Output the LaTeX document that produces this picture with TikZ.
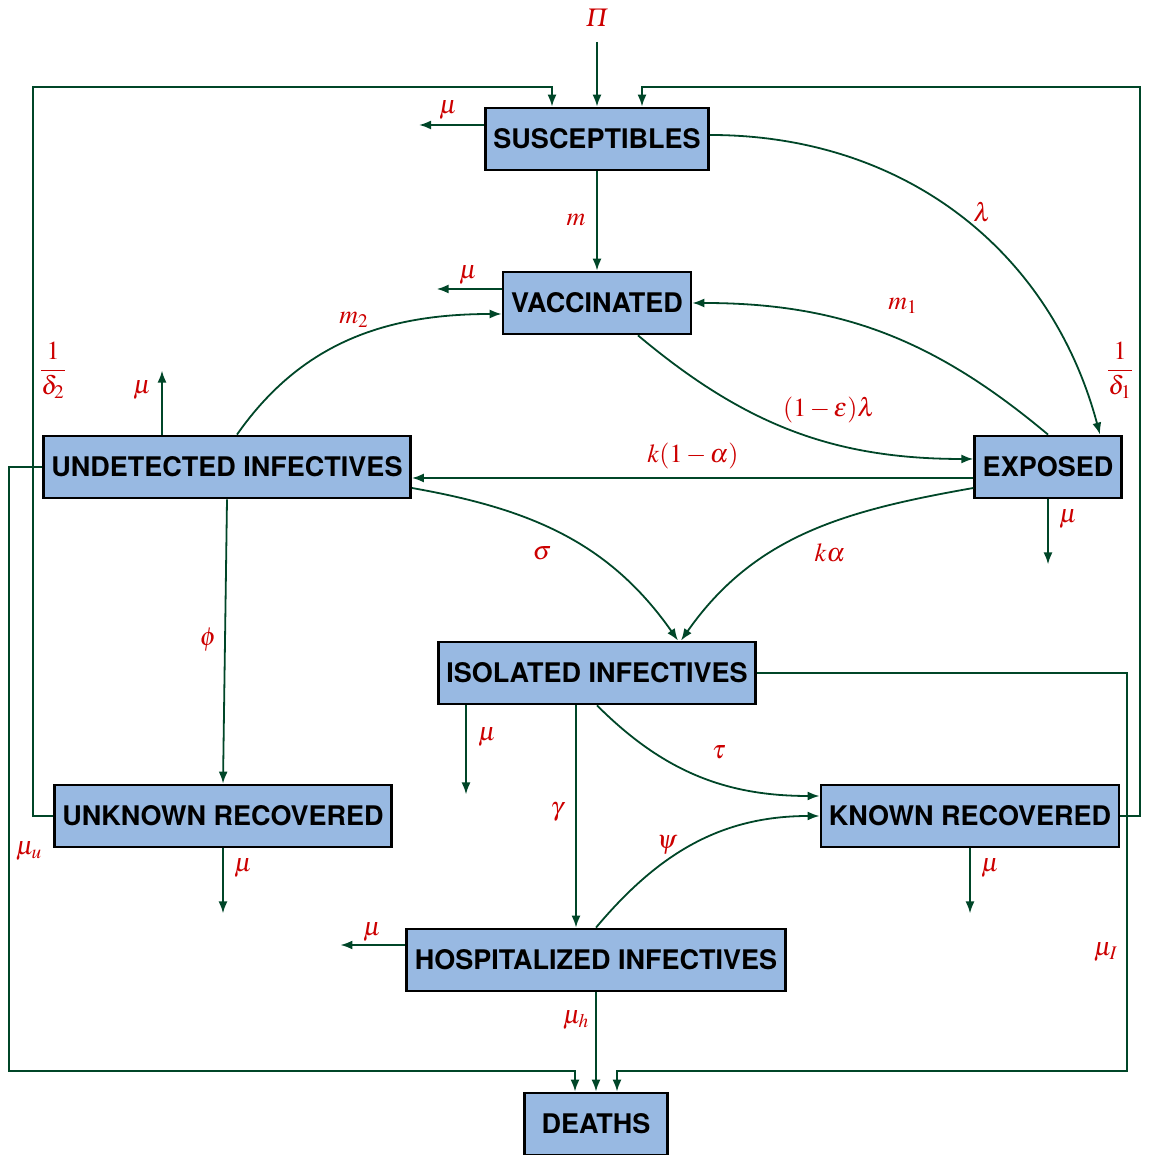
\documentclass[tikz,border=0pt]{standalone}
\usepackage{amsmath}
\usepackage{mathptmx}
\usepackage{fontspec}
\setsansfont{TeX Gyre Heros}
\usetikzlibrary{arrows.meta, calc, positioning}

\definecolor{boxblue}{RGB}{152,185,226}
\definecolor{flowgreen}{RGB}{0,70,40}
\definecolor{labred}{RGB}{204,0,0}

\tikzset{
  comp/.style={draw=black, line width=1.4pt, fill=boxblue,
    font=\sffamily\bfseries\fontsize{13.5}{16}\selectfont,
    minimum height=31pt, inner xsep=4pt},
  flow/.style={draw=flowgreen, line width=0.9pt, -{Latex[length=6pt,width=4.5pt]}},
  lab/.style={text=labred, font=\fontsize{13}{15}\selectfont, inner sep=1pt},
}

\begin{document}
\begin{tikzpicture}[x=0.5pt, y=0.5pt]
    \useasboundingbox (0,0) rectangle (1152,1155);

    % Các ngăn
    \node[comp] (susc) at (597,1016) {SUSCEPTIBLES};
    \node[comp] (vacc) at (597,852) {VACCINATED};
    \node[comp] (und) at (227,688) {UNDETECTED INFECTIVES};
    \node[comp] (expo) at (1048,688) {EXPOSED};
    \node[comp] (iso) at (597,482) {ISOLATED INFECTIVES};
    \node[comp] (unk) at (223,339) {UNKNOWN RECOVERED};
    \node[comp] (kno) at (970,339) {KNOWN RECOVERED};
    \node[comp] (hos) at (596,195) {HOSPITALIZED INFECTIVES};
    \node[comp, minimum width=71.5pt] (dea) at (596,31) {DEATHS};

    % Dòng vào
    \coordinate (pin) at (597,1113);
    \node[lab] (lpi) at (597,1137) {$\varPi$};
    \draw[flow] (pin) -- (susc.north);

    % Các mũi tên chính
    \draw[flow] (susc.south) -- (vacc.north);
    \draw[flow] ($(susc.east)+(0,4)$) to[out=0, in=105] ($(expo.north)+(52,0)$);
    \draw[flow] (expo.north) to[out=140, in=0] (vacc.east);
    \draw[flow] ($(vacc.south)+(41,0)$) to[out=-40, in=180] ($(expo.west)+(0,8)$);
    \draw[flow] ($(und.north)+(10,0)$) to[out=55, in=180] ($(vacc.west)+(0,-11)$);
    \draw[flow] ($(expo.west)+(0,-11)$) -- ($(und.east)+(0,-11)$);
    \draw[flow] ($(und.east)+(0,-21)$) to[out=-10, in=125] ($(iso.north)+(81,0)$);
    \draw[flow] ($(expo.west)+(0,-21)$) to[out=190, in=55] ($(iso.north)+(84,0)$);
    \draw[flow] (und.south) -- (unk.north);
    \draw[flow] ($(iso.south)+(-21,0)$) -- ($(hos.north)+(-20,0)$);
    \draw[flow] (iso.south) to[out=-45, in=180] ($(kno.west)+(0,20)$);
    \draw[flow] (hos.north) to[out=50, in=180] (kno.west);
    \draw[flow] (hos.south) -- (dea.north);

    % Hồi phục quay lại và tử vong
    \draw[flow] (unk.west) -| (33,1068) -| ($(susc.north)+(-45,0)$);
    \draw[flow] (kno.east) -| (1140,1068) -| ($(susc.north)+(45,0)$);
    \draw[flow] (und.west) -| (9,84) -| ($(dea.north)+(-21,0)$);
    \draw[flow] (iso.east) -| (1127,84) -| ($(dea.north)+(21,0)$);

    % Tử vong tự nhiên
    \draw[flow] ($(susc.west)+(0,14)$) -- ++(-65,0);
    \draw[flow] ($(vacc.west)+(0,14)$) -- ++(-65,0);
    \draw[flow] ($(hos.west)+(0,15)$) -- ++(-65,0);
    \draw[flow] ($(und.north)+(-65,0)$) -- ++(0,64);
    \draw[flow] (expo.south) -- ++(0,-65);
    \draw[flow] ($(iso.south)+(-131,0)$) -- ++(0,-89);
    \draw[flow] (unk.south) -- ++(0,-65);
    \draw[flow] (kno.south) -- ++(0,-65);

    % Nhãn
    \node[lab] (lmus) at (448,1045) {$\mu$};
    \node[lab] (lm) at (576,935) {$m$};
    \node[lab] (llam) at (982,943) {$\lambda$};
    \node[lab] (lmuv) at (468,880) {$\mu$};
    \node[lab] (lmone) at (903,849) {$m_1$};
    \node[lab] (lmtwo) at (354,835) {$m_2$};
    \node[lab] (ldtwo) at (53,785) {$\dfrac{1}{\delta_2}$};
    \node[lab] (ldone) at (1120,785) {$\dfrac{1}{\delta_1}$};
    \node[lab] (lmuu) at (142,765) {$\mu$};
    \node[lab] (leps) at (829,745) {$(1-\varepsilon)\lambda$};
    \node[lab] (lalp) at (693,699) {$k(1-\alpha)$};
    \node[lab] (lmue) at (1068,636) {$\mu$};
    \node[lab] (lsig) at (542,602) {$\sigma$};
    \node[lab] (lka) at (830,602) {$k\alpha$};
    \node[lab] (lphi) at (208,515) {$\phi$};
    \node[lab] (lmui) at (487,418) {$\mu$};
    \node[lab] (ltau) at (719,403) {$\tau$};
    \node[lab] (lgam) at (557,343) {$\gamma$};
    \node[lab] (lpsi) at (667,310) {$\psi$};
    \node[lab] (lmuk) at (243,287) {$\mu$};
    \node[lab] (lmur) at (990,287) {$\mu$};
    \node[lab] (lmuun) at (29,304) {$\mu_u$};
    \node[lab] (lmuh) at (372,223) {$\mu$};
    \node[lab] (lmuI) at (1106,203) {$\mu_I$};
    \node[lab] (lmuhd) at (576,135) {$\mu_h$};
\end{tikzpicture}
\end{document}
